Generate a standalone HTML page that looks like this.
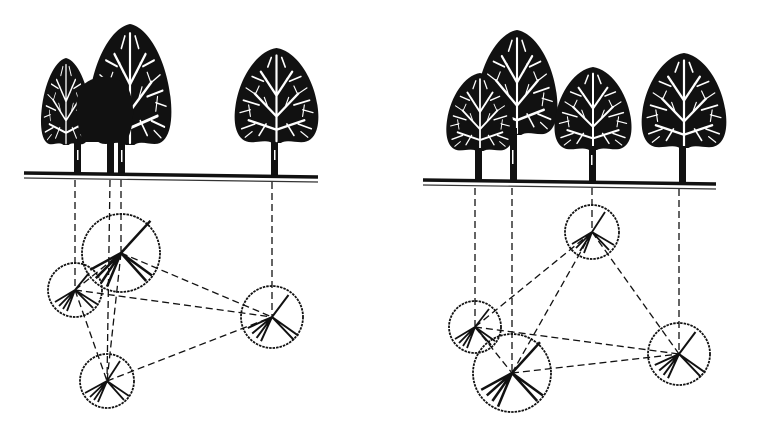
<!DOCTYPE html>
<html><head><style>html,body{margin:0;padding:0;background:#fff;width:781px;height:426px;overflow:hidden}</style></head>
<body>
<svg width="781" height="426" viewBox="0 0 781 426" xmlns="http://www.w3.org/2000/svg">
<defs>
<symbol id="crown" viewBox="0 0 100 100" preserveAspectRatio="none">
  <path d="M50,0 C72,3 92,30 97,60 C101,84 94,97 82,99 C72,100 62,96 55,100 L45,100 C38,96 28,100 18,99 C6,97 -1,84 3,60 C8,30 28,3 50,0Z" fill="#111"/>
  <g stroke="#fff" stroke-linecap="round" fill="none">
    <path d="M50,98 L50,8" stroke-width="2.5"/>
    <path d="M50,72 L25,48 M50,72 L75,48 M50,50 L32,25 M50,50 L68,25 M50,86 L18,76 M50,86 L82,76" stroke-width="2.5"/>
    <path d="M30,60 L12,55 M70,60 L88,55 M35,35 L22,30 M65,35 L78,30 M40,20 L44,10 M60,20 L56,10 M25,80 L10,85 M75,80 L90,85 M38,80 L30,92 M62,80 L70,92" stroke-width="1.8"/>
    <path d="M20,65 L8,68 M80,65 L92,68 M28,50 L15,42 M72,50 L85,42 M40,62 L36,52 M60,62 L64,52 M42,40 L38,32 M58,40 L62,32 M22,88 L14,94 M78,88 L86,94 M30,40 L26,48 M70,40 L74,48 M18,60 L20,72 M82,60 L80,72" stroke-width="1.3"/>
  </g>
</symbol>
</defs>

<!-- LEFT PANEL trees -->
<use href="#crown" x="40" y="58" width="52" height="87"/>
<use href="#crown" x="87" y="24" width="86" height="121"/>
<path d="M80,88 C92,74 116,72 128,88 C136,105 134,128 126,142 L84,142 C76,128 74,102 80,88Z" fill="#111"/>
<g fill="#111">
<rect x="74" y="140" width="7" height="35"/>
<rect x="107" y="138" width="7" height="37"/>
<rect x="118" y="138" width="7" height="37"/>
<rect x="271" y="138" width="7" height="38"/>
</g>
<use href="#crown" x="233" y="48" width="87" height="95"/>
<g fill="#fff"><rect x="77" y="150" width="1.5" height="10"/><rect x="121" y="150" width="1.5" height="12"/><rect x="274" y="150" width="1.5" height="10"/></g>
<path d="M24,173 L318,177" stroke="#111" stroke-width="3.5"/>
<path d="M24,178 L318,182" stroke="#333" stroke-width="1.2"/>

<!-- RIGHT PANEL trees -->
<use href="#crown" x="475" y="30" width="84" height="105"/>
<use href="#crown" x="445" y="73" width="70" height="78"/>
<use href="#crown" x="553" y="67" width="80" height="83"/>
<use href="#crown" x="640" y="53" width="88" height="95"/>
<g fill="#111">
<rect x="475" y="148" width="7" height="33"/>
<rect x="510" y="128" width="7" height="53"/>
<rect x="589" y="146" width="7" height="36"/>
<rect x="679" y="146" width="7" height="37"/>
</g>
<g fill="#fff"><rect x="512" y="150" width="1.5" height="14"/><rect x="591" y="155" width="1.5" height="10"/></g>
<path d="M423,180 L716,184" stroke="#111" stroke-width="3.5"/>
<path d="M423,185 L716,189" stroke="#333" stroke-width="1.2"/>

<!-- dashed connectors -->
<g stroke="#111" stroke-width="1.3" stroke-dasharray="7,4" fill="none">
<path d="M75,180 L75,290 M110,180 L107,381 M121,180 L121,253 M272,182 L272,317"/>
<path d="M121,253 L272,317 M75,290 L272,317 M107,381 L272,317 M75,290 L107,381 M121,253 L107,381 M75,290 L121,253"/>
<path d="M475,188 L475,327 M512,188 L512,373 M592,188 L592,232 M679,189 L679,354"/>
<path d="M475,327 L592,232 M512,373 L592,232 M592,232 L679,354 M475,327 L679,354 M512,373 L679,354 M475,327 L512,373"/>
</g>

<!-- circles -->
<g stroke="#111" fill="none">
<g stroke-width="1.8" stroke-dasharray="2.5,1">
<circle cx="121" cy="253" r="39"/><circle cx="75" cy="290" r="27"/><circle cx="272" cy="317" r="31"/><circle cx="107" cy="381" r="27"/>
<circle cx="592" cy="232" r="27"/><circle cx="475" cy="327" r="26"/><circle cx="512" cy="373" r="39"/><circle cx="679" cy="354" r="31"/>
</g>
<g stroke-width="1.8">
<g transform="translate(121,253) scale(1.4)"><path d="M0,0 L21,-23 M0,0 L-22,12 M0,0 L-18,18 M0,0 L-14,21 M0,0 L-10,24 M0,0 L22,16 M0,0 L18,20"/></g>
<g transform="translate(75,290)"><path d="M0,0 L14,-17 M0,0 L-20,12 M0,0 L-16,16 M0,0 L-12,19 M0,0 L-8,21 M0,0 L22,14 M0,0 L18,18"/></g>
<g transform="translate(272,317) scale(1.1)"><path d="M0,0 L15,-20 M0,0 L-22,10 M0,0 L-18,15 M0,0 L-14,19 M0,0 L-10,22 M0,0 L24,17 M0,0 L20,21"/></g>
<g transform="translate(107,381)"><path d="M0,0 L13,-20 M0,0 L-22,12 M0,0 L-17,16 M0,0 L-13,19 M0,0 L-9,21 M0,0 L22,15 M0,0 L17,19"/></g>
<g transform="translate(592,232)"><path d="M0,0 L13,-20 M0,0 L-20,12 M0,0 L-16,16 M0,0 L-12,19 M0,0 L-8,21 M0,0 L22,13 M0,0 L17,18"/></g>
<g transform="translate(475,327)"><path d="M0,0 L14,-18 M0,0 L-20,12 M0,0 L-16,16 M0,0 L-12,19 M0,0 L-8,21 M0,0 L20,14 M0,0 L16,18"/></g>
<g transform="translate(512,373) scale(1.4)"><path d="M0,0 L20,-22 M0,0 L-22,12 M0,0 L-18,16 M0,0 L-14,20 M0,0 L-10,24 M0,0 L22,16 M0,0 L18,20"/></g>
<g transform="translate(679,354) scale(1.1)"><path d="M0,0 L15,-20 M0,0 L-22,10 M0,0 L-18,15 M0,0 L-14,19 M0,0 L-10,22 M0,0 L24,17 M0,0 L20,21"/></g>
</g>
</g>
</svg>
</body></html>
